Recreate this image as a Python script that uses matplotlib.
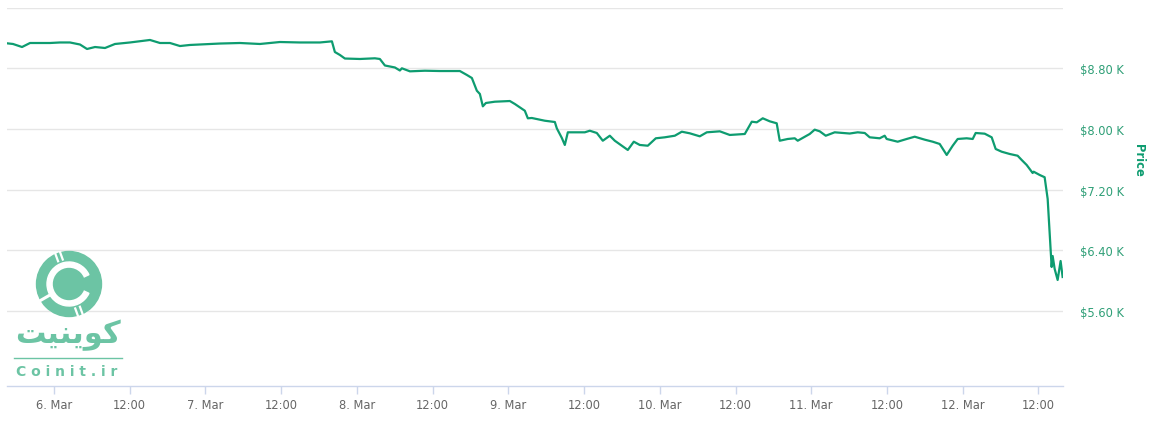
import matplotlib
matplotlib.use("Agg")
import numpy as np
import matplotlib.pyplot as plt
from matplotlib.patches import Circle, Wedge

# hours since 6 Mar 00:00
hours = [-7.45, -6.5, -5.07, -3.8, -0.63, 0.95, 2.53, 4.12, 5.23, 6.5, 8.08, 9.66,
         12.04, 15.21, 16.79, 18.38, 19.96, 21.54, 23.13, 26.3, 29.47, 32.63, 35.8,
         38.97, 42.14, 44.04, 44.51, 45.31, 46.1, 48.48, 50.85, 51.64, 52.44, 54.02,
         54.81, 55.13, 56.4, 58.77, 61.15, 64.32, 65.43, 66.22, 67.01, 67.49, 67.96,
         68.44, 69.86, 72.24, 73.03, 74.61, 75.09, 75.72, 77.78, 79.37, 79.68, 80.48,
         80.95, 81.43, 84.12, 84.91, 86.02, 86.97, 88.08, 88.87, 89.98, 90.93, 91.88,
         92.83, 94.1, 95.37, 96.79, 98.38, 99.49, 100.75, 102.34, 103.45, 105.51,
         107.09, 109.47, 110.58, 111.37, 112.32, 113.43, 114.53, 115.01, 116.28,
         117.39, 117.86, 119.76, 120.55, 121.35, 122.3, 123.72, 126.1, 127.37, 128.48,
         129.27, 130.85, 131.64, 131.96, 133.7, 135.13, 136.4, 137.98, 139.25, 140.36,
         141.47, 142.42, 143.21, 144.63, 145.59, 146.06, 147.49, 148.6, 149.23, 150.18,
         151.45, 152.71, 153.35, 154.14, 154.62, 155.09, 155.25, 156.2, 156.99, 157.47,
         157.78, 158.1, 158.26, 158.58, 159.05, 159.52, 159.84]
price = [9130, 9121, 9081, 9134, 9134, 9141, 9141, 9114, 9055, 9081, 9068, 9121,
         9141, 9174, 9134, 9134, 9094, 9108, 9114, 9127, 9134, 9121, 9147,
         9141, 9141, 9156, 9015, 8976, 8929, 8923, 8932, 8923, 8837, 8811,
         8771, 8800, 8760, 8768, 8764, 8764, 8712, 8672, 8504, 8461, 8298,
         8342, 8359, 8368, 8329, 8240, 8140, 8144, 8108, 8091, 8008, 7880,
         7788, 7955, 7955, 7976, 7946, 7844, 7910, 7844, 7778, 7722, 7831,
         7788, 7778, 7876, 7889, 7910, 7963, 7942, 7902, 7955, 7968,
         7920, 7933, 8095, 8087, 8140, 8100, 8074, 7844, 7867,
         7876, 7844, 7933, 7990, 7968, 7910, 7955, 7939, 7955, 7946,
         7889, 7876, 7910, 7867, 7831, 7867, 7897, 7858, 7831, 7801,
         7656, 7778, 7867, 7876, 7867, 7946, 7937, 7889, 7735, 7699,
         7669, 7646, 7590, 7524, 7471, 7418, 7435, 7392, 7362, 7075,
         6639, 6177, 6322, 6151, 6006, 6256, 6045]

x_ticks = [0, 12, 24, 36, 48, 60, 72, 84, 96, 108, 120, 132, 144, 156]
x_labels = ["6. Mar", "12:00", "7. Mar", "12:00", "8. Mar", "12:00", "9. Mar",
            "12:00", "10. Mar", "12:00", "11. Mar", "12:00", "12. Mar", "12:00"]
y_ticks = [5600, 6400, 7200, 8000, 8800, 9600]
y_labels = ["$5.60 K", "$6.40 K", "$7.20 K", "$8.00 K", "$8.80 K", ""]

line_color = "#0e9c70"
label_green = "#2f9f77"
logo_green = "#6cc4a4"

fig = plt.figure(figsize=(11.51, 4.27), dpi=100)
ax = fig.add_axes([7 / 1151, 40 / 427, 1056 / 1151, 378.3 / 427])

ax.plot(hours, price, color=line_color, linewidth=1.6, zorder=3)
ax.set_xlim(-7.45, 159.9)
ax.set_ylim(4606, 9600)

ax.set_xticks(x_ticks)
ax.set_xticklabels(x_labels, fontsize=8.3, color="#666666")
ax.tick_params(axis="x", length=6, width=1, color="#ccd6eb", pad=2.5)

ax.yaxis.tick_right()
ax.set_yticks(y_ticks)
ax.set_yticklabels(y_labels, fontsize=8.3, color=label_green, ha="left")
ax.tick_params(axis="y", length=0, pad=12)
ax.grid(axis="y", color="#e6e6e6", linewidth=1)
ax.set_axisbelow(True)

for s in ["top", "left", "right"]:
    ax.spines[s].set_visible(False)
ax.spines["bottom"].set_color("#ccd6eb")
ax.spines["bottom"].set_linewidth(1)

fig.text(1138 / 1151, 1 - 160 / 427, "Price", rotation=-90, fontsize=8.3,
         fontweight="bold", color=line_color, ha="center", va="center")

# watermark logo, in pixel coordinates
lg = fig.add_axes([0, 0, 1, 1])
lg.set_xlim(0, 1151)
lg.set_ylim(427, 0)
lg.axis("off")
cx, cy = 69, 285
lg.add_patch(Circle((cx, cy), 32.5, color=logo_green))
lg.add_patch(Wedge((cx, cy), 22, 25, 335, width=6.5, color="white"))
lg.add_patch(Circle((cx, cy), 15.5, color=logo_green))


def cut(angle, r0, r1, off=0.0, lw=1.6):
    a = np.deg2rad(angle)
    ox, oy = -np.sin(a) * off, -np.cos(a) * off
    lg.plot([cx + r0 * np.cos(a) + ox, cx + r1 * np.cos(a) + ox],
            [cy - r0 * np.sin(a) + oy, cy - r1 * np.sin(a) + oy],
            color="white", linewidth=lw, solid_capstyle="butt")


cut(210, 21, 34, lw=2.2)
cut(110, 24, 34, off=-2.5)
cut(110, 24, 34, off=2.5)
cut(-70, 24, 34, off=-2.5)
cut(-70, 24, 34, off=2.5)

lg.text(68, 335, "\ufe96\ufbff\ufee8\ufbfe\ufeee\ufb90", fontsize=22, fontweight="bold",
        color=logo_green, ha="center", va="center", family=["DejaVu Sans"])
lg.plot([14, 122], [358.5, 358.5], color=logo_green, linewidth=1)
lg.text(67, 372, "C o i n i t . i r", fontsize=10, fontweight="bold",
        color=logo_green, ha="center", va="center")

fig.savefig("out.png", dpi=100)
